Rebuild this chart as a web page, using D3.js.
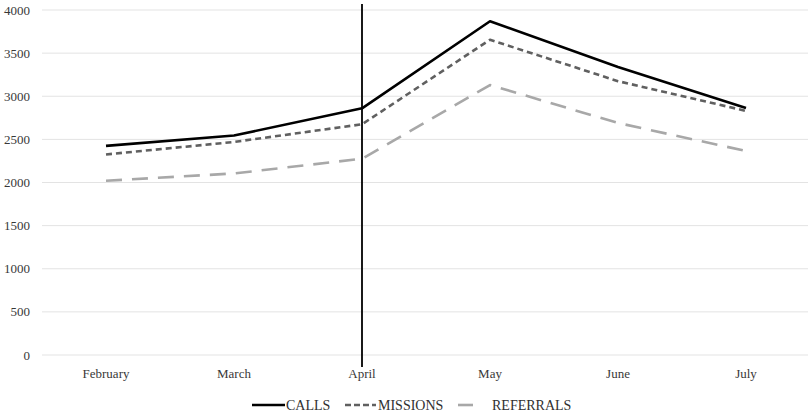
<!DOCTYPE html>
<html><head><meta charset="utf-8">
<script src="https://cdn.jsdelivr.net/npm/d3@7"></script>
<style>body{margin:0;background:#fff}svg{display:block}</style>
</head><body>
<svg id="c" width="810" height="415"></svg>
<script>
const months = ["February","March","April","May","June","July"];
const calls = [2425, 2545, 2860, 3870, 3340, 2865];
const missions = [2325, 2470, 2675, 3655, 3175, 2830];
const referrals = [2020, 2105, 2275, 3130, 2690, 2365];
const yTicks = [0,500,1000,1500,2000,2500,3000,3500,4000];
const seriesNames = ["CALLS","MISSIONS","REFERRALS"];
const markerMonth = "April";

const svg = d3.select("#c");
const x = d3.scaleBand().domain(months).range([42, 810]);
const y = d3.scaleLinear().domain([0, 4000]).range([355, 10]);
const font = "'Liberation Serif','Times New Roman',serif";

svg.append("g").selectAll("line").data(yTicks).join("line")
  .attr("x1", 42).attr("x2", 808)
  .attr("y1", d => y(d)).attr("y2", d => y(d))
  .attr("stroke", "#e3e3e3").attr("stroke-width", 1);

svg.append("g").selectAll("text").data(yTicks).join("text")
  .attr("x", 30).attr("y", d => y(d)).attr("dy", "0.35em")
  .attr("text-anchor", "end").attr("font-family", font).attr("font-size", 13)
  .attr("fill", "#383838").text(d => d);

svg.append("g").selectAll("text").data(months).join("text")
  .attr("x", d => x(d) + x.bandwidth()/2).attr("y", 378)
  .attr("text-anchor", "middle").attr("font-family", font).attr("font-size", 13)
  .attr("fill", "#383838").text(d => d);

const styles = [
  {data: calls, color: "#000000", dash: null},
  {data: missions, color: "#606060", dash: "6,4"},
  {data: referrals, color: "#a8a8a8", dash: "16,10"}
];
const line = d3.line().x((d,i) => x(months[i]) + x.bandwidth()/2).y(d => y(d));

svg.append("line")
  .attr("x1", x(markerMonth) + x.bandwidth()/2).attr("x2", x(markerMonth) + x.bandwidth()/2)
  .attr("y1", 4).attr("y2", 367).attr("stroke", "#000").attr("stroke-width", 1.8);

styles.slice().reverse().forEach(s => {
  svg.append("path").attr("d", line(s.data)).attr("fill", "none")
    .attr("stroke", s.color).attr("stroke-width", 2.6)
    .attr("stroke-dasharray", s.dash).attr("stroke-linejoin", "round");
});

const leg = [
  {x1: 252, x2: 285, tx: 286, dash: null},
  {x1: 345, x2: 376, tx: 378, dash: "6,3"},
  {x1: 458, x2: 473, tx: 492, dash: null}
];
seriesNames.forEach((n, i) => {
  const s = styles[i], l = leg[i];
  svg.append("line").attr("x1", l.x1).attr("x2", l.x2).attr("y1", 405).attr("y2", 405)
    .attr("stroke", s.color).attr("stroke-width", 2.6)
    .attr("stroke-dasharray", l.dash);
  svg.append("text").attr("x", l.tx).attr("y", 405).attr("dy", "0.35em")
    .attr("font-family", font).attr("font-size", 14).attr("fill", "#303030").text(n);
});
</script>
</body></html>
